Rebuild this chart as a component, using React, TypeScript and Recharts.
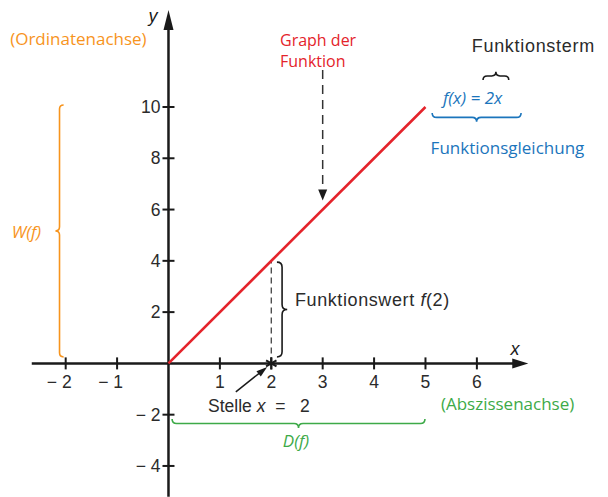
import React from 'react';
import {
  ComposedChart,
  Line,
  Scatter,
  XAxis,
  YAxis,
  ReferenceLine,
  ReferenceArea,
} from 'recharts';

// f(x) = 2x on [0, 5]
const graphPoints = [
  { x: 0, y: 0 },
  { x: 5, y: 10 },
];

const xTickValues = [-2, -1, 1, 2, 3, 4, 5, 6];
const yTickValues = [-4, -2, 2, 4, 6, 8, 10];

const xDomain = [-3.278, 8.551];
const yDomain = [-5.211, 14.173];

const RED = '#e4232b';
const ORANGE = '#f7941d';
const GREEN = '#3daa48';
const BLUE = '#1b75bc';
const INK = '#1a1a1a';
const TEXT = '#2b2b2b';

const xTicks = xTickValues.map((v) => ({ x: v, y: 0, neg: v < 0, label: v < 0 ? `\u2212 ${-v}` : `${v}` }));
const yTicks = yTickValues.map((v) => ({ x: 0, y: v, label: v < 0 ? `\u2212 ${-v}` : `${v}` }));

// arrow heads: tip position + direction
const arrowHeads = [
  { x: 7.0, y: 0, angle: 0, len: 16, half: 5 },
  { x: 0, y: 13.78, angle: -90, len: 20, half: 5 },
  { x: 3, y: 6.35, angle: 90, len: 11, half: 4.5 },
  { x: 1.92, y: -0.14, angle: -39, len: 11, half: 3.5 },
];

const braces = [
  { x1: -2.2, x2: -2.04, y1: 0.25, y2: 10.08, tip: 'left', color: ORANGE },
  { x1: 0.07, x2: 4.99, y1: -2.52, y2: -2.17, tip: 'down', color: GREEN },
  { x1: 5.13, x2: 6.86, y1: 9.42, y2: 9.77, tip: 'down', color: BLUE },
  { x1: 6.12, x2: 6.62, y1: 11.05, y2: 11.37, tip: 'up', color: INK },
  { x1: 2.11, x2: 2.31, y1: 0.25, y2: 3.95, tip: 'right', color: INK },
];

type Part = [string, boolean];
const SANS = 'Liberation Sans, Arial, sans-serif';
const HUMAN = '"Open Sans", "Noto Sans", sans-serif';
const NB = '\u00a0';

const labels: { x: number; y: number; parts: Part[]; color: string; anchor: string; size: number; font: string; ls?: number }[] = [
  { x: -0.3, y: 13.55, parts: [['y', true]], color: INK, anchor: 'middle', size: 18, font: SANS },
  { x: 6.74, y: 0.56, parts: [['x', true]], color: INK, anchor: 'middle', size: 18, font: SANS },
  { x: -3.08, y: 12.69, parts: [['(Ordinatenachse)', false]], color: ORANGE, anchor: 'start', size: 17, font: HUMAN },
  { x: 2.17, y: 12.6, parts: [['Graph der', false]], color: RED, anchor: 'start', size: 16, font: HUMAN },
  { x: 2.17, y: 11.8, parts: [['Funktion', false]], color: RED, anchor: 'start', size: 16, font: HUMAN },
  { x: 5.9, y: 12.38, parts: [['Funktionsterm', false]], color: TEXT, anchor: 'start', size: 18, font: SANS, ls: 0.7 },
  { x: 5.34, y: 10.39, parts: [[`f(x)${NB}=${NB}2x`, true]], color: BLUE, anchor: 'start', size: 17, font: HUMAN },
  { x: 5.1, y: 8.44, parts: [['Funktionsgleichung', false]], color: BLUE, anchor: 'start', size: 17, font: HUMAN },
  { x: -3.05, y: 5.16, parts: [['W(f)', true]], color: ORANGE, anchor: 'start', size: 17, font: HUMAN },
  { x: 2.46, y: 2.47, parts: [['Funktionswert ', false], ['f', true], ['(2)', false]], color: TEXT, anchor: 'start', size: 18, font: SANS, ls: 0.6 },
  { x: 0.77, y: -1.66, parts: [['Stelle ', false], ['x', true], [`${NB}${NB}=${NB}${NB}${NB}2`, false]], color: TEXT, anchor: 'start', size: 17.5, font: SANS },
  { x: 5.3, y: -1.53, parts: [['(Abszissenachse)', false]], color: GREEN, anchor: 'start', size: 17, font: HUMAN },
  { x: 2.48, y: -3.0, parts: [['D(f)', true]], color: GREEN, anchor: 'middle', size: 17, font: HUMAN },
];

const star = [{ x: 2, y: 0 }];

const XTick = (p: any) => (
  <g>
    <line x1={p.cx} y1={p.cy - 6} x2={p.cx} y2={p.cy + 6} stroke={INK} strokeWidth={2} />
    <text
      x={p.payload.neg ? p.cx + 6 : p.cx}
      y={p.cy + 19}
      textAnchor={p.payload.neg ? 'end' : 'middle'}
      dominantBaseline="central"
      fontFamily={SANS}
      fontSize={17.5}
      fill={TEXT}
    >
      {p.payload.label}
    </text>
  </g>
);

const YTick = (p: any) => (
  <g>
    <line x1={p.cx - 6} y1={p.cy} x2={p.cx + 6} y2={p.cy} stroke={INK} strokeWidth={2} />
    <text x={p.cx - 8} y={p.cy} textAnchor="end" dominantBaseline="central" fontFamily={SANS} fontSize={17.5} fill={TEXT}>
      {p.payload.label}
    </text>
  </g>
);

const ArrowHead = (p: any) => {
  const { len, half, angle } = p.payload;
  return (
    <polygon
      points={`0,0 ${-len},${-half} ${-len},${half}`}
      transform={`translate(${p.cx},${p.cy}) rotate(${angle})`}
      fill={INK}
    />
  );
};

const Star = (p: any) => (
  <g stroke={INK} strokeWidth={2}>
    {[0, 60, 120].map((a) => (
      <line key={a} x1={p.cx} y1={p.cy - 6} x2={p.cx} y2={p.cy + 6} transform={`rotate(${a} ${p.cx} ${p.cy})`} />
    ))}
  </g>
);

const Label = (p: any) => {
  const d = p.payload;
  return (
    <text
      x={p.cx}
      y={p.cy}
      textAnchor={d.anchor}
      dominantBaseline="central"
      fontFamily={d.font}
      fontSize={d.size}
      letterSpacing={d.ls || 0}
      fill={d.color}
    >
      {d.parts.map((pt: Part, i: number) => (
        <tspan key={i} fontStyle={pt[1] ? 'italic' : 'normal'}>
          {pt[0]}
        </tspan>
      ))}
    </text>
  );
};

const bracePath = (tip: string, x: number, y: number, w: number, h: number) => {
  if (tip === 'left' || tip === 'right') {
    const s = x + w / 2;
    const r = w / 2;
    const m = y + h / 2;
    const end = tip === 'left' ? x + w : x;
    const point = tip === 'left' ? x : x + w;
    return `M${end},${y} Q${s},${y} ${s},${y + r} L${s},${m - r} Q${s},${m} ${point},${m} Q${s},${m} ${s},${m + r} L${s},${y + h - r} Q${s},${y + h} ${end},${y + h}`;
  }
  const s = y + h / 2;
  const r = h / 2;
  const m = x + w / 2;
  const end = tip === 'down' ? y : y + h;
  const point = tip === 'down' ? y + h : y;
  return `M${x},${end} Q${x},${s} ${x + r},${s} L${m - r},${s} Q${m},${s} ${m},${point} Q${m},${s} ${m + r},${s} L${x + w - r},${s} Q${x + w},${s} ${x + w},${end}`;
};

const braceShape = (tip: string, color: string) => (p: any) => (
  <path d={bracePath(tip, p.x, p.y, p.width, p.height)} fill="none" stroke={color} strokeWidth={1.6} />
);

export default function App() {
  return (
    <div style={{ position: 'absolute', left: 0, top: 0, width: 608, height: 497, background: '#fff' }}>
      <ComposedChart width={608} height={497} margin={{ top: 0, right: 0, bottom: 0, left: 0 }}>
        <XAxis type="number" dataKey="x" domain={xDomain} allowDataOverflow hide />
        <YAxis type="number" dataKey="y" domain={yDomain} allowDataOverflow hide />

        {braces.map((b, i) => (
          <ReferenceArea
            key={`b${i}`}
            x1={b.x1}
            x2={b.x2}
            y1={b.y1}
            y2={b.y2}
            shape={braceShape(b.tip, b.color)}
          />
        ))}

        {/* axes */}
        <ReferenceLine segment={[{ x: -2.66, y: 0 }, { x: 6.75, y: 0 }]} stroke={INK} strokeWidth={2.5} ifOverflow="visible" />
        <ReferenceLine segment={[{ x: 0, y: -5.2 }, { x: 0, y: 13.2 }]} stroke={INK} strokeWidth={2.5} ifOverflow="visible" />

        {/* guides */}
        <ReferenceLine segment={[{ x: 2, y: 0 }, { x: 2, y: 3.95 }]} stroke="#444" strokeWidth={1.3} strokeDasharray="6 4" />
        <ReferenceLine segment={[{ x: 3, y: 11.44 }, { x: 3, y: 6.7 }]} stroke="#333" strokeWidth={1.5} strokeDasharray="9 6" />
        <ReferenceLine segment={[{ x: 1.31, y: -1.11 }, { x: 1.8, y: -0.33 }]} stroke={INK} strokeWidth={1.5} />

        <Line
          data={graphPoints}
          dataKey="y"
          stroke={RED}
          strokeWidth={2.6}
          dot={false}
          activeDot={false}
          isAnimationActive={false}
        />

        <Scatter data={xTicks} shape={XTick} isAnimationActive={false} />
        <Scatter data={yTicks} shape={YTick} isAnimationActive={false} />
        <Scatter data={arrowHeads} shape={ArrowHead} isAnimationActive={false} />
        <Scatter data={star} shape={Star} isAnimationActive={false} />
        <Scatter data={labels} shape={Label} isAnimationActive={false} />
      </ComposedChart>
    </div>
  );
}
